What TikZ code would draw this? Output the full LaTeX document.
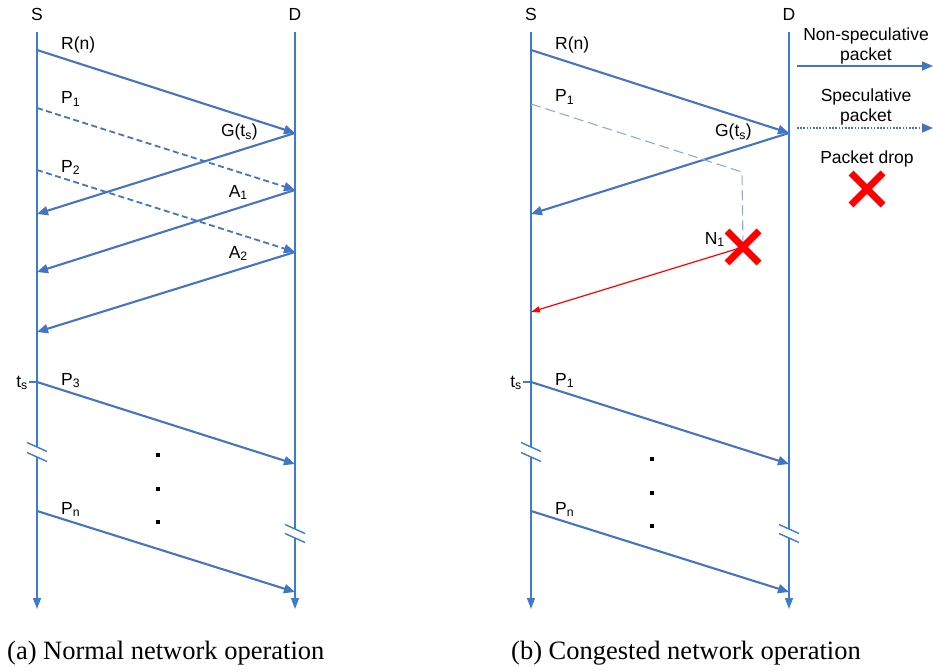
\documentclass[tikz,border=0pt]{standalone}
\usepackage{fontspec}
\setmainfont{Liberation Serif}
\setsansfont{Liberation Sans}
\usetikzlibrary{arrows.meta,shapes.misc}
\definecolor{seqblue}{RGB}{68,116,196}
\definecolor{lifeblue}{RGB}{62,122,208}
\definecolor{specblue}{RGB}{140,172,222}
\tikzset{
  life/.style={lifeblue,line width=1.4pt},
  lifeend/.style={-{Triangle[length=11pt,width=8pt]}},
  msg/.style={seqblue,line width=2.1pt,-{Triangle[length=11pt,width=9pt]}},
  spec/.style={msg,line width=1.8pt,dash pattern=on 6pt off 3.5pt},
  specb/.style={specblue,line width=1.1pt,dash pattern=on 10pt off 5pt},
  nack/.style={red,line width=1.2pt,-{Triangle[length=9pt,width=6pt]}},
  dropx/.style={cross out,draw=red,line width=7pt,minimum size=25pt,inner sep=0pt},
  lbl/.style={font=\sffamily\fontsize{17.5}{20}\selectfont,inner sep=0pt},
  capfont/.style={font=\fontsize{26.5}{30}\selectfont,inner sep=0pt},
}
\begin{document}
\begin{tikzpicture}[x=1pt,y=-1pt]
\useasboundingbox (0,0) rectangle (933,671);
\foreach \p/\dx/\pk/\dy in {a/0/3/0,b/494/1/4}{
\begin{scope}[xshift=\dx]
  \node[lbl] (S\p) at (37,14) {S};
  \node[lbl] (D\p) at (295,14) {D};
  \foreach \n/\y in {top/32,r/50,g/214,t/382,bA/447,bB/457,n/511,end/609} \coordinate (S\p\n) at (37,\y);
  \foreach \n/\y in {top/32,r/133,t/464,bA/529,bB/538,n/592,end/609} \coordinate (D\p\n) at (295,\y);
  \draw[life] (S\p top) -- (S\p bA); \draw[life,lifeend] (S\p bB) -- (S\p end);
  \draw[life] (D\p top) -- (D\p bA); \draw[life,lifeend] (D\p bB) -- (D\p end);
  \foreach \l in {S\p bA,S\p bB,D\p bA,D\p bB} \draw[life] ([shift={(-10,-4.5)}]\l) -- ([shift={(10,4.5)}]\l);
  \draw[life] (S\p t) -- ++(-8,0);
  \node[lbl,anchor=base east] (ts\p) at (28,387) {t\textsubscript{s}};
  \draw[msg] (S\p r) -- (D\p r);
  \draw[msg] (D\p r) -- (S\p g);
  \draw[msg] (S\p t) -- (D\p t);
  \draw[msg] (S\p n) -- (D\p n);
  \node[lbl,anchor=base west] (R\p) at (61,50) {R(n)};
  \node[lbl,anchor=base east] (G\p) at (258,137) {G(t\textsubscript{s})};
  \node[lbl,anchor=base west] (P\p) at (61,385) {P\textsubscript{\pk}};
  \node[lbl,anchor=base west] (Pn\p) at (61,514) {P\textsubscript{n}};
  \foreach \y in {455,489,522} \fill (156.4,\y+\dy-1.6) rectangle ++(3.2,3.2);
\end{scope}}
% (a) normal
\foreach \n/\y in {pA/108,pB/170,aA/272,aB/332} \coordinate (Sa\n) at (37,\y);
\foreach \n/\y in {pA/190,pB/252} \coordinate (Da\n) at (295,\y);
\draw[spec] (SapA) -- (DapA); \draw[spec] (SapB) -- (DapB);
\draw[msg] (DapA) -- (SaaA); \draw[msg] (DapB) -- (SaaB);
\node[lbl,anchor=base west] (PAa) at (61,104) {P\textsubscript{1}};
\node[lbl,anchor=base west] (PBa) at (61,172) {P\textsubscript{2}};
\node[lbl,anchor=base east] (AAa) at (248,197) {A\textsubscript{1}};
\node[lbl,anchor=base east] (ABa) at (248,258) {A\textsubscript{2}};
% (b) congested
\coordinate (Sbp) at (531,104); \coordinate (bend) at (742,172);
\coordinate (drop) at (743,247); \coordinate (Sbk) at (531,312);
\draw[specb] (Sbp) -- (bend) -- (drop);
\draw[nack] (drop) -- (Sbk);
\node[dropx] (X) at (drop) {};
\node[lbl,anchor=base west] (PAb) at (555,102) {P\textsubscript{1}};
\node[lbl,anchor=base east] (N) at (725,244) {N\textsubscript{1}};
% legend
\node[lbl,align=center,anchor=north] (nonspec) at (866,28) {Non-speculative\\packet};
\coordinate (lgA) at (797,66); \coordinate (lgB) at (933,66);
\draw[msg,line width=1.5pt] (lgA) -- (lgB);
\node[lbl,align=center,anchor=north] (specl) at (866,89) {Speculative\\packet};
\coordinate (lgC) at (797,128); \coordinate (lgD) at (933,128);
\draw[msg,line width=1.6pt,dash pattern=on 1.6pt off 1.6pt] (lgC) -- (lgD);
\node[lbl,anchor=base] (droplbl) at (867,164) {Packet drop};
\node[dropx] (Xl) at (867,189) {};
% captions
\node[capfont,anchor=base west] (capa) at (7,659) {(a) Normal network operation};
\node[capfont,anchor=base west] (capb) at (511,659) {(b) Congested network operation};
\end{tikzpicture}
\end{document}
